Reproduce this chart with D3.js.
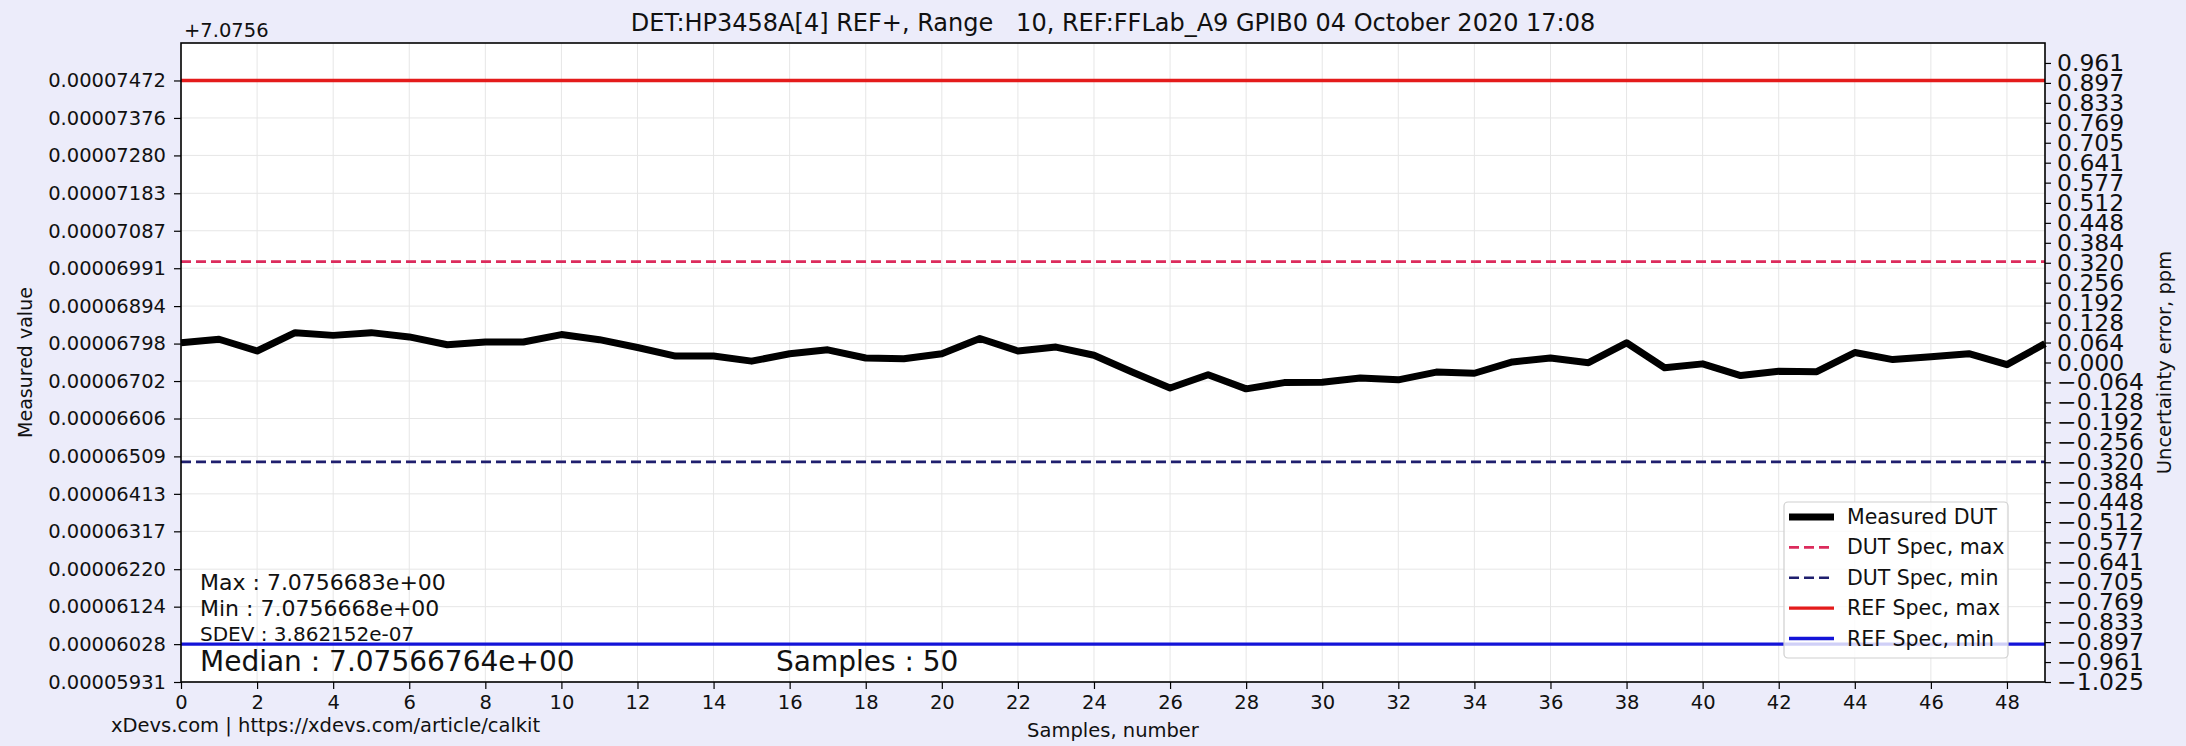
<!DOCTYPE html>
<html>
<head>
<meta charset="utf-8">
<script src="https://cdn.jsdelivr.net/npm/d3@7/dist/d3.min.js"></script>
<style>
  html, body { margin: 0; padding: 0; background: #ececfa; }
  svg { display: block; font-family: "DejaVu Sans", sans-serif; }
</style>
</head>
<body>
<div id="chart"></div>
<script>
/* HP3458A REF+ measurement plot */

// data (values are offsets from +7.0756)
const measured = [
  0.00006800, 0.00006809, 0.00006779, 0.00006826, 0.00006819, 0.00006826, 0.00006815, 0.00006795,
  0.00006802, 0.00006802, 0.00006821, 0.00006808, 0.00006788, 0.00006766, 0.00006766, 0.00006753,
  0.00006772, 0.00006782, 0.00006761, 0.00006759, 0.00006772, 0.00006811, 0.00006779, 0.00006789,
  0.00006768, 0.00006725, 0.00006684, 0.00006718, 0.00006682, 0.00006698, 0.00006699, 0.00006710,
  0.00006705, 0.00006725, 0.00006722, 0.00006751, 0.00006761, 0.00006749, 0.00006800, 0.00006736,
  0.00006746, 0.00006716, 0.00006727, 0.00006726, 0.00006775, 0.00006757, 0.00006764, 0.00006772,
  0.00006744, 0.00006798
];
const specNames = ['DUT Spec, max', 'DUT Spec, min', 'REF Spec, max', 'REF Spec, min'];
const specValues = [0.00007008, 0.00006495, 0.00007472, 0.00006028];

const xTicks = [0, 2, 4, 6, 8, 10, 12, 14, 16, 18, 20, 22, 24, 26, 28, 30, 32, 34, 36, 38, 40, 42, 44, 46, 48];
const leftTicks = [
  0.00005931, 0.00006028, 0.00006124, 0.00006220, 0.00006317, 0.00006413, 0.00006509, 0.00006606,
  0.00006702, 0.00006798, 0.00006894, 0.00006991, 0.00007087, 0.00007183, 0.00007280, 0.00007376,
  0.00007472
];
const rightTicks = [
  -1.025, -0.961, -0.897, -0.833, -0.769, -0.705, -0.641, -0.577, -0.512, -0.448, -0.384,
  -0.320, -0.256, -0.192, -0.128, -0.064, 0.000, 0.064, 0.128, 0.192, 0.256, 0.320, 0.384,
  0.448, 0.512, 0.577, 0.641, 0.705, 0.769, 0.833, 0.897, 0.961
];

const stats = {
  max: 'Max : 7.0756683e+00',
  min: 'Min : 7.0756668e+00',
  sdev: 'SDEV : 3.862152e-07',
  median: 'Median : 7.07566764e+00',
  samples: 'Samples : 50'
};

const config = {
  W: 2186, H: 746,
  LEFT: 181, RIGHT: 2045, TOP: 43, BOTTOM: 682,
  FONT: 19.5
};

const specStyle = [
  { color: '#dc2b5c', width: 2.6, dash: '10,5' },
  { color: '#1f1f6e', width: 2.6, dash: '10,5' },
  { color: '#e41b1b', width: 3.4, dash: null },
  { color: '#1414d8', width: 3.4, dash: null }
];

const svg = d3.select('#chart').append('svg')
  .attr('width', config.W)
  .attr('height', config.H);

svg.append('rect').attr('width', config.W).attr('height', config.H).attr('fill', '#ececfa');

// scales
const x = d3.scaleLinear().domain([0, 49]).range([config.LEFT, config.RIGHT]);
const yL = d3.scaleLinear().domain([0.00005931, 0.00007568]).range([config.BOTTOM, config.TOP]);
const yR = d3.scaleLinear().domain([-1.025, 1.025]).range([config.BOTTOM, config.TOP]);

// plot area
svg.append('rect')
  .attr('x', config.LEFT).attr('y', config.TOP)
  .attr('width', config.RIGHT - config.LEFT)
  .attr('height', config.BOTTOM - config.TOP)
  .attr('fill', '#fff');

// grid
const grid = svg.append('g').attr('stroke', '#e6e6e6').attr('stroke-width', 1);
grid.selectAll('.vg').data(xTicks).enter().append('line')
  .attr('x1', d => x(d)).attr('x2', d => x(d))
  .attr('y1', config.TOP).attr('y2', config.BOTTOM);
grid.selectAll('.hg').data(leftTicks).enter().append('line')
  .attr('x1', config.LEFT).attr('x2', config.RIGHT)
  .attr('y1', d => yL(d)).attr('y2', d => yL(d));

// spec lines
svg.append('g').selectAll('line').data(specValues).enter().append('line')
  .attr('x1', config.LEFT).attr('x2', config.RIGHT)
  .attr('y1', d => yL(d)).attr('y2', d => yL(d))
  .attr('stroke', (d, i) => specStyle[i].color)
  .attr('stroke-width', (d, i) => specStyle[i].width)
  .attr('stroke-dasharray', (d, i) => specStyle[i].dash);

// measured line
const line = d3.line().x((d, i) => x(i)).y(d => yL(d));
svg.append('path')
  .datum(measured)
  .attr('d', line)
  .attr('fill', 'none')
  .attr('stroke', '#000')
  .attr('stroke-width', 7)
  .attr('stroke-linejoin', 'round');

// axes
const styleAxis = (g, size) => {
  g.select('.domain').remove();
  g.selectAll('.tick line').attr('stroke', '#000').attr('stroke-width', 1.2);
  g.selectAll('.tick text').attr('fill', '#111').style('font-size', size + 'px')
    .style('font-family', '"DejaVu Sans", sans-serif');
};

svg.append('g')
  .attr('transform', `translate(0,${config.BOTTOM})`)
  .call(d3.axisBottom(x).tickValues(xTicks).tickSize(7).tickPadding(6).tickFormat(d3.format('d')))
  .call(g => styleAxis(g, config.FONT));

svg.append('g')
  .attr('transform', `translate(${config.LEFT},0)`)
  .call(d3.axisLeft(yL).tickValues(leftTicks).tickSize(7).tickPadding(8).tickFormat(d => d.toFixed(8)))
  .call(g => styleAxis(g, config.FONT));

svg.append('g')
  .attr('transform', `translate(${config.RIGHT},0)`)
  .call(d3.axisRight(yR).tickValues(rightTicks).tickSize(6).tickPadding(6)
    .tickFormat(d => (d < 0 ? '\u2212' : '') + Math.abs(d).toFixed(3)))
  .call(g => styleAxis(g, 23.5));

// frame
svg.append('rect')
  .attr('x', config.LEFT).attr('y', config.TOP)
  .attr('width', config.RIGHT - config.LEFT)
  .attr('height', config.BOTTOM - config.TOP)
  .attr('fill', 'none').attr('stroke', '#000').attr('stroke-width', 1.6);

// texts
const text = (str, tx, ty, size, anchor, rotate) => {
  const t = svg.append('text')
    .attr('x', tx).attr('y', ty)
    .attr('fill', '#111')
    .attr('text-anchor', anchor || 'start')
    .style('font-size', size + 'px')
    .style('white-space', 'pre')
    .text(str);
  if (rotate) t.attr('transform', `rotate(${rotate},${tx},${ty})`);
  return t;
};

text('DET:HP3458A[4] REF+, Range   10, REF:FFLab_A9 GPIB0 04 October 2020 17:08',
  (config.LEFT + config.RIGHT) / 2, 31, 24, 'middle');
text('+7.0756', 184, 37, config.FONT);
text('Measured value', 32, (config.TOP + config.BOTTOM) / 2, 19, 'middle', -90);
text('Uncertainty error, ppm', 2171, (config.TOP + config.BOTTOM) / 2, 19.5, 'middle', -90);
text('Samples, number', (config.LEFT + config.RIGHT) / 2, 737, 19.5, 'middle');
text('xDevs.com | https://xdevs.com/article/calkit', 111, 732, config.FONT);

text(stats.max, 200, 590, 22);
text(stats.min, 200, 615.5, 22);
text(stats.sdev, 200, 640.5, 20);
text(stats.median, 200, 671, 28);
text(stats.samples, 776, 671, 28);

// legend
const legend = svg.append('g');
legend.append('rect')
  .attr('x', 1784).attr('y', 502).attr('width', 224).attr('height', 156)
  .attr('rx', 4)
  .attr('fill', '#fff').attr('fill-opacity', 0.8)
  .attr('stroke', '#cfcfcf').attr('stroke-width', 1.2);

const legendItems = [{ name: 'Measured DUT', color: '#000', width: 7, dash: null }]
  .concat(specNames.map((n, i) => Object.assign({ name: n }, specStyle[i])));

const rowY = d3.scalePoint().domain(legendItems.map(d => d.name)).range([517, 638.5]);

const rows = legend.selectAll('.row').data(legendItems).enter().append('g')
  .attr('transform', d => `translate(0,${rowY(d.name)})`);
rows.append('line')
  .attr('x1', 1789).attr('x2', 1834)
  .attr('stroke', d => d.color)
  .attr('stroke-width', d => d.width)
  .attr('stroke-dasharray', d => d.dash);
rows.append('text')
  .attr('x', 1847).attr('y', 7)
  .attr('fill', '#111')
  .style('font-size', '20.5px')
  .text(d => d.name);
</script>
</body>
</html>
